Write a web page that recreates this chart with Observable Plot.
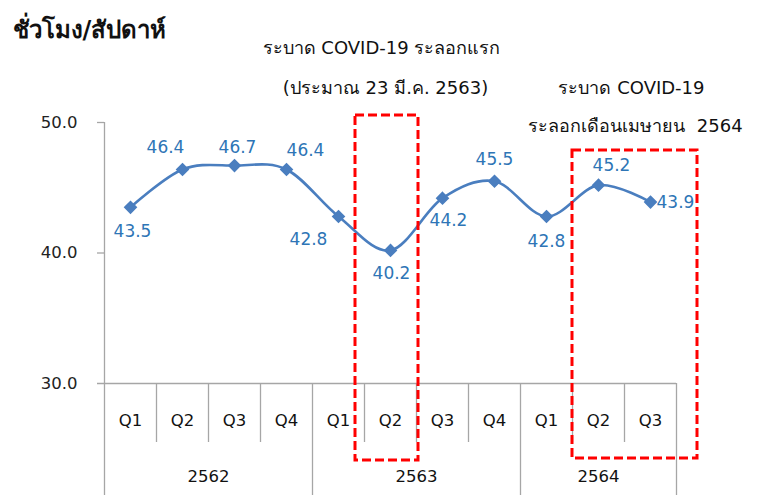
<!DOCTYPE html>
<html>
<head>
<meta charset="utf-8">
<script src="https://cdn.jsdelivr.net/npm/d3@7"></script>
<script src="https://cdn.jsdelivr.net/npm/@observablehq/plot@0.6"></script>
<style>
  html, body { margin: 0; padding: 0; background: #fff; }
  #chart svg { display: block; }
</style>
</head>
<body>
<div id="chart"></div>
<script>
// ---- data ----
const quarters = ["Q1","Q2","Q3","Q4","Q1","Q2","Q3","Q4","Q1","Q2","Q3"];
const years = ["2562","2563","2564"];
const quarterYear = ["2562","2562","2562","2562","2563","2563","2563","2563","2564","2564","2564"];
const hours = [43.5, 46.4, 46.7, 46.4, 42.8, 40.2, 44.2, 45.5, 42.8, 45.2, 43.9];
const yTicks = [30, 40, 50];
const titleText = "ชั่วโมง/สัปดาห์";
const note1 = ["ระบาด COVID-19 ระลอกแรก", "(ประมาณ 23 มี.ค. 2563)"];
const note2 = ["ระบาด COVID-19", "ระลอกเดือนเมษายน  2564"];

// ---- layout (pixels) ----
const W = 761, H = 495;
const mT = 122, mB = 112, mL = 104, mR = 85;
const yDom = [30, 50];
const pxPerUnit = (H - mT - mB) / (yDom[1] - yDom[0]);
const yAt = px => yDom[1] - (px - mT) / pxPerUnit;       // pixel row -> data value
const xPerPx = 11 / (W - mL - mR);
const xAt = px => -0.5 + (px - mL) * xPerPx;             // pixel col -> data value

const FONT = "Tahoma, 'DejaVu Sans', 'Noto Sans', sans-serif";
const BLUE_LINE = "#4A7EBF";
const BLUE_TEXT = "#2E75B6";
const GRAY = "#A6A6A6";

const pts = hours.map((v, i) => ({i, v, q: quarters[i], y: quarterYear[i]}));

// label placement per point
const labelDx = [2, -17, 3, 19, -30, 1, 6, 0, 0, 13, 6];
const labelDy = [24, -22, -18, -19, 23, 23, 22, -22, 25, -20, 0];
const labelAnchor = ["middle","middle","middle","middle","middle","middle","middle","middle","middle","middle","start"];

const yearCenters = years.map(yr => {
  const idx = quarterYear.map((d, i) => d === yr ? i : null).filter(d => d !== null);
  return {yr, x: d3.mean(idx)};
});
const yearBounds = [-0.5];
years.forEach(yr => yearBounds.push(quarterYear.lastIndexOf(yr) + 0.5));
const quarterBounds = d3.range(0.5, quarters.length - 0.5, 1).filter(b => !yearBounds.includes(b));

const boxes = [
  {x1: xAt(355), x2: xAt(418), y1: yAt(115), y2: yAt(460)},
  {x1: xAt(572), x2: xAt(697), y1: yAt(150), y2: yAt(458)}
];

const marks = [
  // y axis ticks & labels (bottom tick doubles as category axis line)
  Plot.ruleY(yTicks, {x1: xAt(97), x2: d => d === yDom[0] ? quarters.length - 0.5 : -0.5, stroke: GRAY, strokeWidth: 1.3, clip: false}),
  Plot.text(yTicks, {x: -0.5, y: d => d, text: d => d.toFixed(1), dx: -27, textAnchor: "end", fontSize: 16.5, fill: "#222"}),
  // y axis line / year separators
  Plot.ruleX(yearBounds, {y1: yAt(H), y2: d => d === -0.5 ? yDom[1] : yDom[0], stroke: GRAY, strokeWidth: 1.3, clip: false}),
  // quarter separators
  Plot.ruleX(quarterBounds, {y1: yDom[0], y2: yAt(442), stroke: GRAY, strokeWidth: 1.3}),
  // quarter labels
  Plot.text(pts, {x: "i", y: yAt(420), text: "q", fontSize: 16.5, fill: "#111"}),
  // year labels
  Plot.text(yearCenters, {x: "x", y: yAt(476), text: "yr", fontSize: 16.5, fill: "#111"}),
  // line + markers
  Plot.line(pts, {x: "i", y: "v", stroke: BLUE_LINE, strokeWidth: 2.6, curve: "cardinal", tension: 0}),
  Plot.dot(pts, {x: "i", y: "v", symbol: "diamond2", r: 5.2, fill: BLUE_LINE, stroke: BLUE_LINE}),
  // data labels
  ...pts.map((p, k) => Plot.text([p], {x: "i", y: "v", text: d => d.v.toFixed(1), dx: labelDx[k], dy: labelDy[k], textAnchor: labelAnchor[k], fontSize: 17, fill: BLUE_TEXT})),
  // red dashed boxes
  Plot.rect(boxes, {x1: "x1", x2: "x2", y1: "y1", y2: "y2", fill: "none", stroke: "#FF0000", strokeWidth: 3, strokeDasharray: "9,4", clip: false}),
  // annotations
  Plot.text([note1[0]], {x: xAt(381), y: yAt(48), text: d => d, fontSize: 18, fill: "#111"}),
  Plot.text([note1[1]], {x: xAt(385), y: yAt(88), text: d => d, fontSize: 18, fill: "#111"}),
  Plot.text([note2[0]], {x: xAt(631), y: yAt(88), text: d => d, fontSize: 18, fill: "#111"}),
  Plot.text([note2[1]], {x: xAt(635), y: yAt(126), text: d => d, fontSize: 18, fill: "#111"}),
  // title
  Plot.text([titleText], {x: xAt(12), y: yAt(30), text: d => d, textAnchor: "start", fontSize: 24, fontWeight: "bold", fill: "#111"})
];

const chart = Plot.plot({
  width: W,
  height: H,
  marginTop: mT,
  marginBottom: mB,
  marginLeft: mL,
  marginRight: mR,
  style: {fontFamily: FONT, background: "#fff"},
  x: {type: "linear", domain: [-0.5, quarters.length - 0.5], axis: null},
  y: {type: "linear", domain: yDom, axis: null},
  marks
});
document.getElementById("chart").appendChild(chart);
</script>
</body>
</html>
